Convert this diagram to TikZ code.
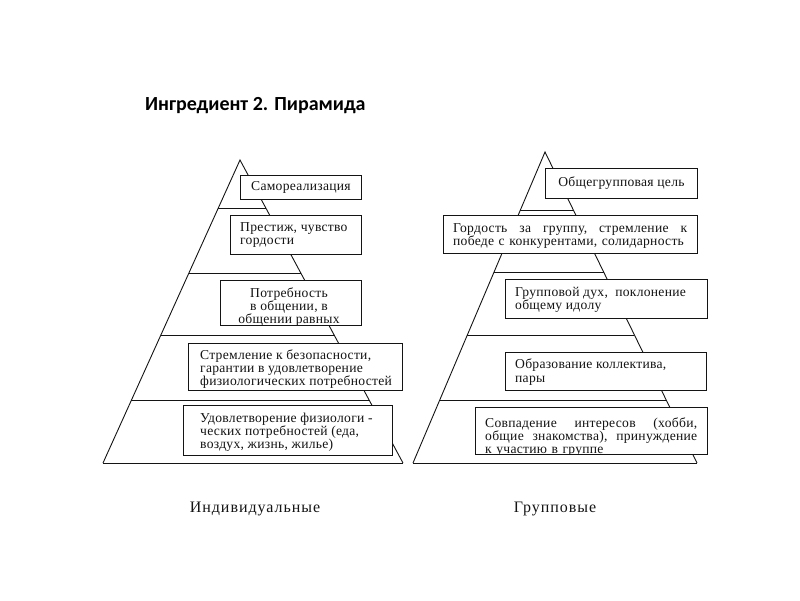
\documentclass[tikz,border=0pt]{standalone}
\usepackage{fontspec}
\setmainfont{Liberation Serif}
\newfontfamily\titlefont{Carlito}
\usetikzlibrary{calc}
\definecolor{ink}{HTML}{141414}
\begin{document}
\begin{tikzpicture}[x=1pt,y=-1pt,
  edge/.style={draw=ink,line width=0.9pt},
  pbox/.style={draw=ink,line width=0.9pt,fill=white,anchor=north west,inner sep=0pt},
  btext/.style={font=\fontsize{13.6}{13.2}\selectfont\addfontfeature{LetterSpace=2},inner sep=0pt,text=ink},
  lbl/.style={font=\fontsize{16}{18}\selectfont\addfontfeature{LetterSpace=6},inner sep=0pt,text=ink,anchor=base}
]
\useasboundingbox (0,0) rectangle (800,600);

% title
\node[font=\titlefont\bfseries\fontsize{20}{24}\selectfont,anchor=base west,inner sep=0pt,text=black] (title) at (145,110) {Ингредиент 2. Пирамида};

% ---------- left pyramid ----------
\coordinate (lA) at (240,160);
\coordinate (lL) at (103,463);
\coordinate (lR) at (403,463);
\draw[edge,line join=miter] (lL) -- (lA) -- (lR);
\draw[edge] (lL) -- (lR);
\foreach \t in {48,113,175,240}{
  \draw[edge] ($(lA)!{\t/303}!(lL)$) -- ($(lA)!{\t/303}!(lR)$);
}

\node[pbox,minimum width=121pt,minimum height=24pt] (l1) at (240,175) {};
\node[btext,align=center] (l1t) at (l1.center) {Самореализация};

\node[pbox,minimum width=131pt,minimum height=39pt] (l2) at (230,215) {};
\node[btext,align=left,anchor=west] (l2t) at (240,235) {Престиж, чувство\\гордости};

\node[pbox,minimum width=141pt,minimum height=45pt] (l3) at (220,280) {};
\node[btext,align=center] (l3t) at (289,307) {Потребность\\в общении, в\\общении равных};

\node[pbox,minimum width=214pt,minimum height=47pt] (l4) at (188,343) {};
\node[btext,align=left,anchor=west] (l4t) at (200,369) {Стремление к безопасности,\\гарантии в удовлетворение\\физиологических потребностей};

\node[pbox,minimum width=209pt,minimum height=50pt] (l5) at (183,405) {};
\node[btext,align=left,anchor=west] (l5t) at (200,432) {Удовлетворение физиологи -\\ческих потребностей (еда,\\воздух, жизнь, жилье)};

% ---------- right pyramid ----------
\coordinate (rA) at (545,152);
\coordinate (rL) at (413,463);
\coordinate (rR) at (697,463);
\draw[edge,line join=miter] (rL) -- (rA) -- (rR);
\draw[edge] (rL) -- (rR);
\foreach \t in {58,120,183,248}{
  \draw[edge] ($(rA)!{\t/311}!(rL)$) -- ($(rA)!{\t/311}!(rR)$);
}

\node[pbox,minimum width=152pt,minimum height=30pt] (r1) at (545,168) {};
\node[btext,align=center] (r1t) at (r1.center) {Общегрупповая цель};

\node[pbox,minimum width=254pt,minimum height=38pt] (r2) at (443,215) {};
\node[btext,align=left,text width=234pt,anchor=west] (r2t) at (453,236) {Гордость\hfill за\hfill группу,\hfill стремление\hfill к\\победе с конкурентами, солидарность};

\node[pbox,minimum width=202pt,minimum height=39pt] (r3) at (505,279) {};
\node[btext,align=left,anchor=west] (r3t) at (515,300) {Групповой дух,\ \ поклонение\\общему идолу};

\node[pbox,minimum width=201pt,minimum height=38pt] (r4) at (505,352) {};
\node[btext,align=left,anchor=west] (r4t) at (515,372) {Образование коллектива,\\пары};

\node[pbox,minimum width=232pt,minimum height=47pt] (r5) at (475,407) {};
\begin{scope}
  \clip ($(r5.north west)+(0.6,0.6)$) rectangle ($(r5.south east)+(-0.6,-0.6)$);
  \node[btext,align=left,text width=212pt,anchor=west] (r5t) at (485,437) {Совпадение\hfill интересов\hfill (хобби,\\общие\hfill знакомства),\hfill принуждение\\к участию в группе};
\end{scope}

% labels
\node[lbl] (lab1) at (255,512) {Индивидуальные};
\node[lbl] (lab2) at (555,512) {Групповые};
\end{tikzpicture}
\end{document}
